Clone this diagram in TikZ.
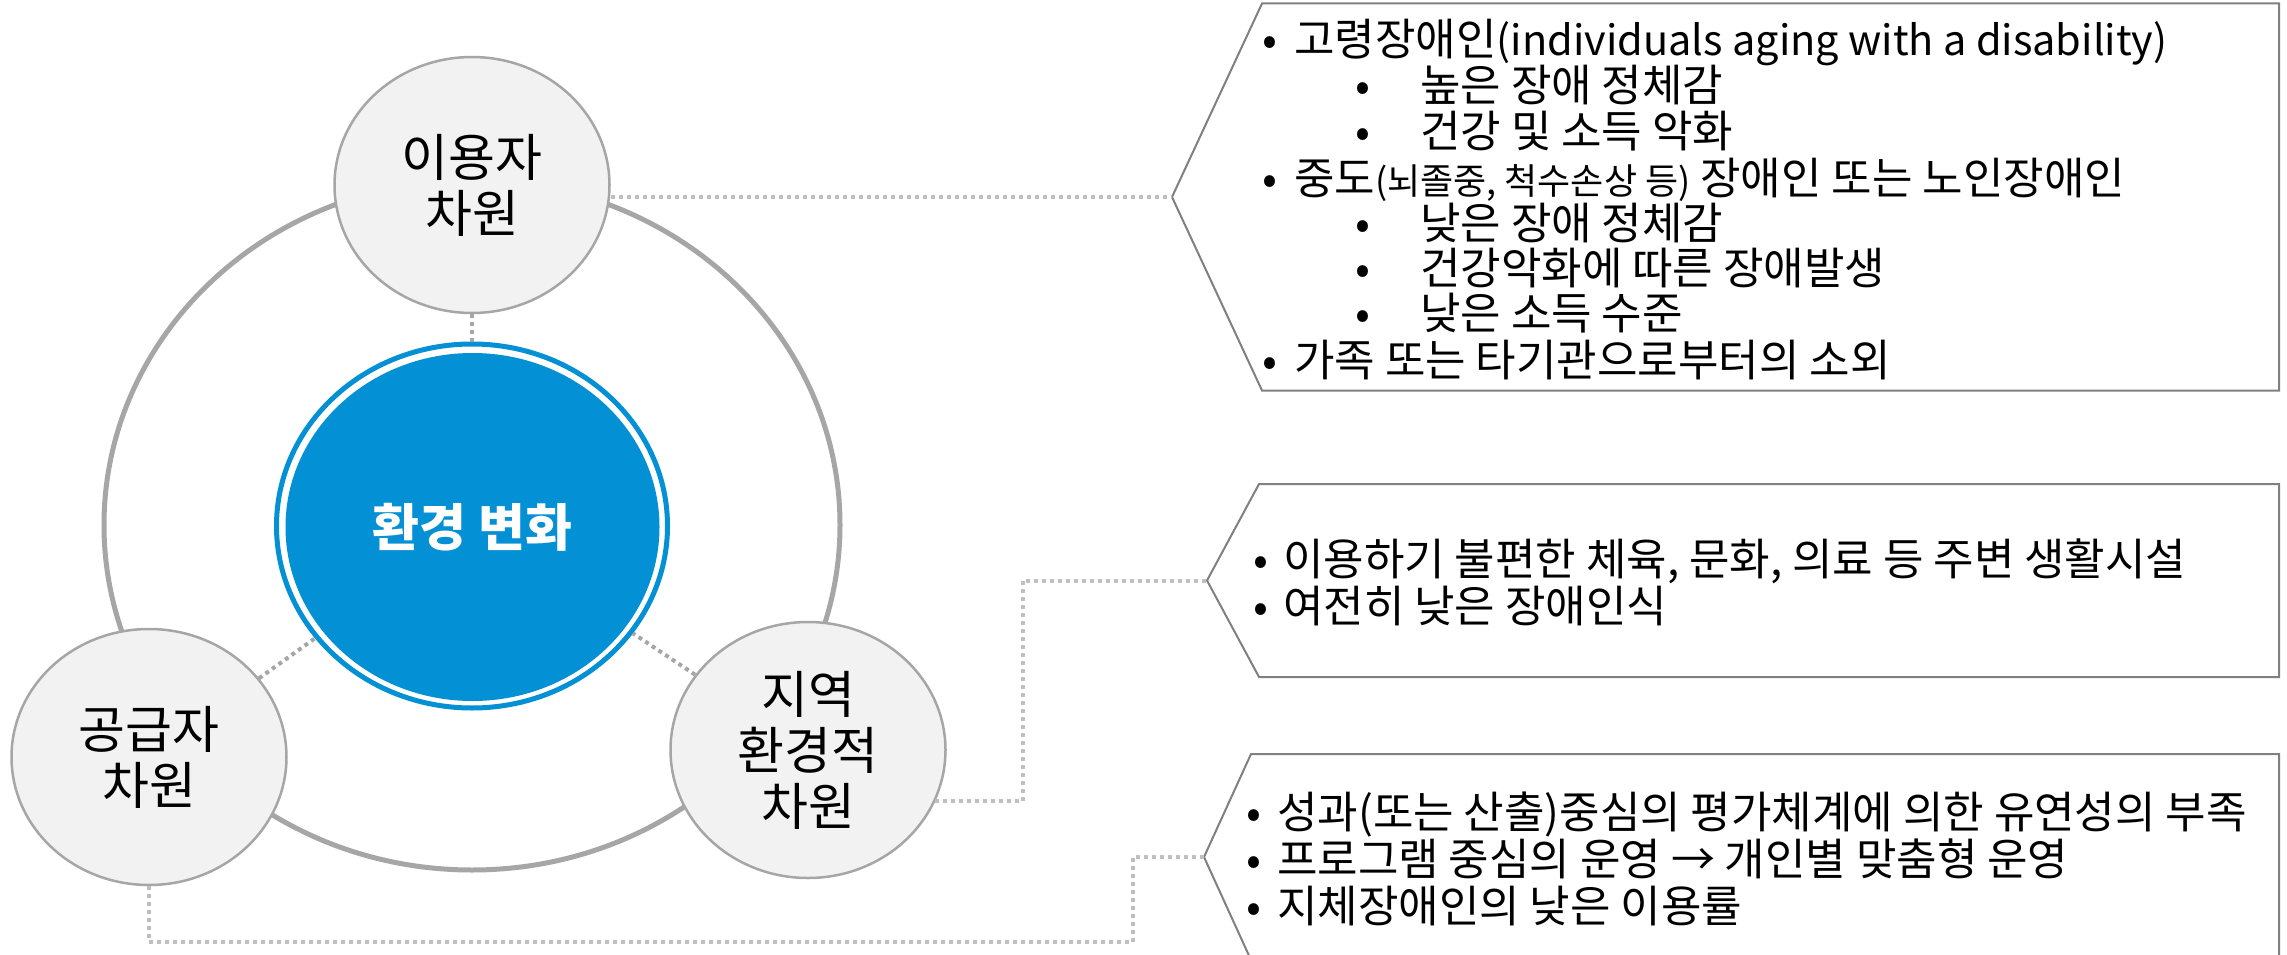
\documentclass[tikz,border=0pt]{standalone}
\usepackage{fontspec}
\setmainfont{Noto Sans CJK KR}
\usetikzlibrary{shapes.geometric}
\definecolor{cblue}{RGB}{3,144,213}
\definecolor{cring}{RGB}{166,166,166}
\definecolor{cfill}{RGB}{242,242,242}
\definecolor{cdot}{RGB}{191,191,191}
\definecolor{cbox}{RGB}{128,128,128}
\newcommand{\bl}[1]{\llap{\makebox[0pt][c]{•}\hspace{#1}}}
\begin{document}
\begin{tikzpicture}[x=1pt,y=-1pt,
  dim/.style={ellipse, draw=cring, line width=2.5pt, fill=cfill, minimum width=275pt, minimum height=256pt, inner sep=0pt, align=center, font=\fontsize{51pt}{56pt}\selectfont},
  calloutbox/.style={draw=cbox, line width=2pt, fill=white},
  dotlink/.style={draw=cdot, line width=4pt, dash pattern=on 4pt off 4pt},
  dotdark/.style={draw=cring, line width=4pt, dash pattern=on 4pt off 4pt},
  txt/.style={anchor=base west, inner sep=0pt, font=\fontsize{44pt}{48pt}\selectfont},
]
\clip (0,0) rectangle (2287,955);
\fill[white] (0,0) rectangle (2287,955);

% outer ring
\draw[cring, line width=5pt] (472,525) ellipse [x radius=368pt, y radius=345pt];

% dimension circles
\node[dim] (u) at (472,185) {이용자\\차원};
\node[dim] (g) at (149,757) {공급자\\차원};
\node[dim] (j) at (808,750) {지역\\환경적\\차원};

% central node
\node[ellipse, draw=cblue, line width=5pt, fill=white, minimum width=391pt, minimum height=364pt, inner sep=0pt] (env) at (472,526) {};
\node[ellipse, fill=cblue, minimum width=374pt, minimum height=348pt, inner sep=0pt, text=white, font=\bfseries\fontsize{51pt}{56pt}\selectfont] (envin) at (472.5,527) {환경 변화};

\draw[dotdark] (u) -- (env);
\draw[dotdark] (g) -- (env);
\draw[dotdark] (j) -- (env);

% callout 1
\coordinate (b1tip) at (1172,197);
\draw[calloutbox] (b1tip) -- (1262,3.5) -- (2279,3.5) -- (2279,390.5) -- (1262,390.5) -- cycle;
\draw[dotlink] (u.east |- b1tip) -- (b1tip);

% callout 2
\coordinate (b2tip) at (1207,580.5);
\coordinate (b2bend) at (1023,580.5);
\draw[calloutbox] (b2tip) -- (1259,484) -- (2279,484) -- (2279,677) -- (1259,677) -- cycle;
\draw[dotlink] (j.-22.3) -| (b2bend) -- (b2tip);

% callout 3
\coordinate (b3tip) at (1204,857);
\coordinate (b3bend) at (1133,942);
\draw[calloutbox] (b3tip) -- (1251,754) -- (2279,754) -- (2279,962) -- (1251,960) -- cycle;
\draw[dotlink] (g.south) |- (b3bend) |- (b3tip);

% texts box 1
\node[txt] (t11) at (1294,55.5) {\bl{24pt}고령장애인{\fontsize{41.5pt}{48pt}\selectfont(individuals aging with a disability)}};
\node[txt] (t12) at (1420,102) {\bl{57pt}높은 장애 정체감};
\node[txt] (t13) at (1420,148) {\bl{57pt}건강 및 소득 악화};
\node[txt] (t14) at (1294,194.5) {\bl{24pt}중도{\fontsize{36pt}{40pt}\selectfont(뇌졸중, 척수손상 등)} 장애인 또는 노인장애인};
\node[txt] (t15) at (1420,239.5) {\bl{57pt}낮은 장애 정체감};
\node[txt] (t16) at (1420,284.5) {\bl{57pt}건강악화에 따른 장애발생};
\node[txt] (t17) at (1420,329) {\bl{57pt}낮은 소득 수준};
\node[txt] (t18) at (1294,376) {\bl{24pt}가족 또는 타기관으로부터의 소외};

% texts box 2
\node[txt] (t21) at (1283,575) {\bl{22pt}이용하기 불편한 체육, 문화, 의료 등 주변 생활시설};
\node[txt] (t22) at (1283,622) {\bl{22pt}여전히 낮은 장애인식};

% texts box 3
\node[txt] (t31) at (1277,828) {\bl{23pt}성과(또는 산출)중심의 평가체계에 의한 유연성의 부족};
\node[txt] (t32) at (1277,875) {\bl{23pt}프로그램 중심의 운영 → 개인별 맞춤형 운영};
\node[txt] (t33) at (1277,922) {\bl{23pt}지체장애인의 낮은 이용률};
\end{tikzpicture}
\end{document}
